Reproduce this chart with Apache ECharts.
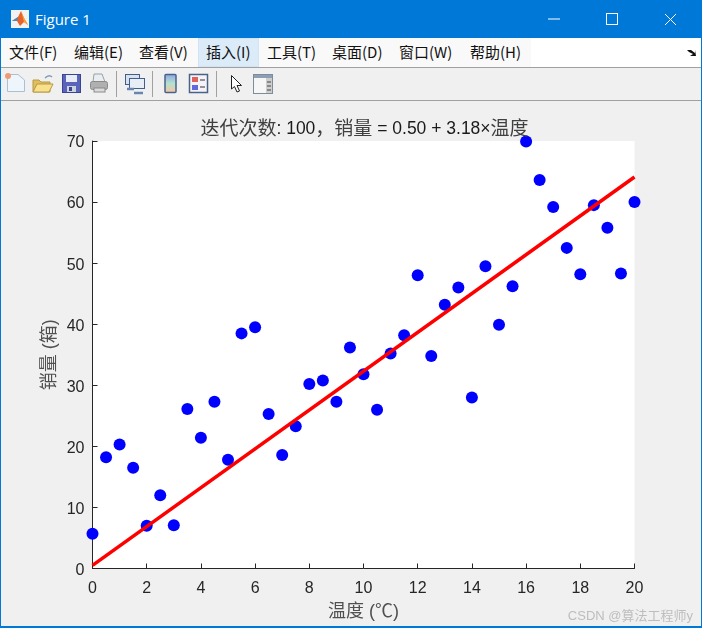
<!DOCTYPE html>
<html>
<head>
<meta charset="utf-8">
<title>Figure 1</title>
<script src="https://cdn.jsdelivr.net/npm/echarts@6/dist/echarts.min.js"></script>
<style>
html, body { margin: 0; padding: 0; width: 702px; height: 628px; overflow: hidden; background: #f0f0f0; }
#win { position: relative; width: 702px; height: 628px; font-family: "Noto Sans CJK SC", "Liberation Sans", sans-serif; }
#titlebar { position: absolute; left: 0; top: 0; width: 702px; height: 38px; background: #0078d7; color: #fff; }
#titlebar span { position: absolute; left: 35px; top: 9px; font: 15px "Open Sans", "Liberation Sans", sans-serif; }
#titlebar svg { position: absolute; left: 0; top: 0; }
#menubar { position: absolute; left: 0; top: 38px; width: 702px; height: 29px; background: #fff; border-bottom: 1px solid #a0a0a0; }
#menubg { position: absolute; left: 0; top: 0; width: 531px; height: 29px; background: #f9f9f9; }
#menubar i { position: absolute; top: 4px; font: normal 15px "Noto Sans CJK SC", sans-serif; color: #111; white-space: nowrap; line-height: 20px; }
#hl { position: absolute; left: 198px; top: 0; background: #dcebf8; border: 1px solid #d0e4f5; width: 59px; height: 27px; }
#toolbar { position: absolute; left: 0; top: 68px; width: 702px; height: 32px; background: #f0f0f0; border-bottom: 1px solid #a0a0a0; }
#chart { position: absolute; left: 0; top: 101px; width: 702px; height: 527px; }
#edge { position: absolute; left: 0; top: 0; width: 702px; height: 628px; box-sizing: border-box; border: 1px solid #0078d7; border-bottom-width: 2px; pointer-events: none; }
</style>
</head>
<body>
<div id="win">
  <div id="titlebar">
    <svg width="702" height="38">
      <rect x="11" y="10" width="18" height="18" fill="#f2f2f2"/>
      <path d="M12 21 L18 17 L21 11 L24 18 L28 25 L24 22 L20 26 L17 21 Z" fill="#e8622a"/>
      <path d="M12 21 L18 17 L17 21 Z" fill="#3f8fc4"/>
      <path d="M21 11 L24 18 L28 25 L24 22 Z" fill="#f4a636"/>
      <line x1="548" y1="19" x2="560" y2="19" stroke="#fff"/>
      <rect x="606.5" y="13.5" width="11" height="11" fill="none" stroke="#fff"/>
      <path d="M665 14 L676 25 M676 14 L665 25" stroke="#fff" fill="none"/>
    </svg>
    <span>Figure 1</span>
  </div>
  <div id="menubar">
    <div id="menubg"></div>
    <div id="hl"></div>
    <i style="left:9px">文件(F)</i>
    <i style="left:74px">编辑(E)</i>
    <i style="left:139px">查看(V)</i>
    <i style="left:206px">插入(I)</i>
    <i style="left:267px">工具(T)</i>
    <i style="left:332px">桌面(D)</i>
    <i style="left:399px">窗口(W)</i>
    <i style="left:470px">帮助(H)</i>
    <svg width="702" height="29" style="position:absolute;left:0;top:0"><path d="M687 12 L691 12 L695 15 L695 12 L696 18 L690 18 L693 16 L689 14 Z" fill="#111"/></svg>
  </div>
  <div id="toolbar">
    <svg width="290" height="32">
      <path d="M7.5 6.5 H18 L24.5 12 V23.5 H7.5 Z" fill="#eef5fb" stroke="#a9c0d6"/>
      <circle cx="8" cy="8" r="3" fill="#ee9a72"/>
      <path d="M33 12 H39 L41 14 H50 V24 H33 Z" fill="#e2bd5c" stroke="#b79a45"/>
      <path d="M33 24 L37 16 H53 L49 24 Z" fill="#f8e08c" stroke="#b79a45"/>
      <path d="M45 10 Q49 6 52 9" stroke="#7f9bb8" stroke-width="1.5" fill="none"/>
      <rect x="62.5" y="6.5" width="18" height="18" fill="#5a64bb" stroke="#3a4490"/>
      <rect x="66" y="7" width="11" height="7" fill="#e8ecf6"/>
      <rect x="67" y="18" width="9" height="6" fill="#cfd3e0"/>
      <rect x="69" y="19" width="3" height="4" fill="#3a4490"/>
      <path d="M94 6 H102 L105 14 H93 Z" fill="#e8eef2" stroke="#9aa0a4"/>
      <rect x="90.5" y="13.5" width="17" height="8" rx="2" fill="#b0b0b0" stroke="#8a8a8a"/>
      <rect x="94" y="20" width="11" height="4" fill="#dcdcdc" stroke="#8a8a8a"/>
      <line x1="116.5" y1="3" x2="116.5" y2="29" stroke="#a0a0a0"/>
      <rect x="125.5" y="6.5" width="14" height="10" fill="#d8e2ef" stroke="#3f5f8f"/>
      <rect x="129.5" y="10.5" width="15" height="10" fill="#e8eef6" stroke="#3f5f8f"/>
      <path d="M127 21 H134 M134 25 H143" stroke="#6a86ae" stroke-width="2.5"/>
      <line x1="152.5" y1="3" x2="152.5" y2="29" stroke="#a0a0a0"/>
      <defs><linearGradient id="cb" x1="0" y1="0" x2="0" y2="1"><stop offset="0" stop-color="#8fa8e8"/><stop offset="0.5" stop-color="#b5e2cc"/><stop offset="1" stop-color="#f6c4a6"/></linearGradient></defs>
      <rect x="165" y="6.5" width="11" height="18" rx="1" fill="url(#cb)" stroke="#4a6288" stroke-width="1.5"/>
      <rect x="189.5" y="6.5" width="18" height="18" fill="#f4f4f8" stroke="#4a6288" stroke-width="1.5"/>
      <rect x="192" y="9" width="6" height="5" fill="#e0605f"/>
      <rect x="192" y="17" width="6" height="5" fill="#6068e0"/>
      <path d="M200 12 H205 M200 19 H205" stroke="#333"/>
      <line x1="216.5" y1="3" x2="216.5" y2="29" stroke="#a0a0a0"/>
      <path d="M231.5 7.5 V21 L234.5 18.5 L237 24 L239.5 23 L237 17.5 H241.5 Z" fill="#fff" stroke="#222"/>
      <rect x="253.5" y="6.5" width="19" height="19" fill="#f6f6f6" stroke="#7d8c9a"/>
      <rect x="254" y="7" width="18" height="3" fill="#8ba0b4"/>
      <rect x="266" y="10" width="6" height="15" fill="#cdcdcd"/>
      <path d="M267 14 H271 M267 18 H271 M267 22 H271" stroke="#444"/>
    </svg>
  </div>
  <div id="chart"></div>
  <div id="edge"></div>
</div>
<script>
// 温度 / 销量 散点
let temperature = [0, 0.5, 1, 1.5, 2, 2.5, 3, 3.5, 4, 4.5, 5, 5.5, 6, 6.5, 7, 7.5, 8, 8.5, 9, 9.5,
  10, 10.5, 11, 11.5, 12, 12.5, 13, 13.5, 14, 14.5, 15, 15.5, 16, 16.5, 17, 17.5, 18, 18.5, 19, 19.5, 20];
let sales = [5.7, 18.2, 20.3, 16.5, 7.0, 12.0, 7.1, 26.1, 21.4, 27.3, 17.8, 38.5, 39.5, 25.3, 18.6, 23.3, 30.2, 30.8, 27.3, 36.2,
  31.8, 26.0, 35.2, 38.2, 48.0, 34.8, 43.2, 46.0, 28.0, 49.5, 39.9, 46.2, 69.9, 63.6, 59.2, 52.5, 48.2, 59.5, 55.8, 48.3, 60.0];
// 拟合直线的两个端点
let fitX = [0, 20];
let fitY = [0.5, 64.1];

let scatterData = temperature.map(function (t, i) { return [t, sales[i]]; });
let fitData = fitX.map(function (t, i) { return [t, fitY[i]]; });

let font = '"Liberation Sans", "Noto Sans CJK SC", sans-serif';
let myChart = echarts.init(document.getElementById('chart'), null, { renderer: 'canvas' });

let axisCommon = {
  nameLocation: 'middle',
  nameMoveOverlap: false,
  nameTextStyle: { color: '#505050', fontSize: 18, fontFamily: font },
  axisLine: { show: true, onZero: false, lineStyle: { color: '#262626', width: 1 } },
  axisTick: { show: true, inside: true, length: 5, lineStyle: { color: '#262626', width: 1 } },
  splitLine: { show: false }
};
let labelCommon = { color: '#262626', fontSize: 16, fontFamily: font, showMinLabel: true, showMaxLabel: true };

let option = {
  animation: false,
  backgroundColor: '#f0f0f0',
  title: {
    text: '{c|迭代次数}: 100{c|，销量} = 0.50 + 3.18×{c|温度}',
    left: 359.5, top: 14, textAlign: 'center',
    textStyle: {
      color: '#1a1a1a', fontSize: 17.5, fontWeight: 'normal', fontFamily: font,
      rich: { c: { color: '#404040', fontSize: 19, fontFamily: font } }
    }
  },
  grid: { left: 92.5, right: 67.5, top: 40, bottom: 59.5, show: true, backgroundColor: '#fff', borderWidth: 0 },
  xAxis: Object.assign({}, axisCommon, {
    type: 'value', min: 0, max: 20, interval: 2, name: '温度 (℃)', nameGap: 35,
    axisLabel: Object.assign({}, labelCommon, { margin: 12 })
  }),
  yAxis: Object.assign({}, axisCommon, {
    type: 'value', min: 0, max: 70, interval: 10, name: '销量 (箱)', nameGap: 33,
    axisLabel: Object.assign({}, labelCommon, { verticalAlign: 'top', lineHeight: 4 })
  }),
  graphic: [{
    type: 'text', right: 9, bottom: 5,
    style: { text: 'CSDN @算法工程师y', fill: '#bdbdbd', fontSize: 13, fontFamily: font }
  }],
  series: [
    {
      type: 'scatter', data: scatterData, symbolSize: 12, clip: false,
      itemStyle: { color: '#0000ff', opacity: 1 }
    },
    {
      type: 'line', data: fitData, showSymbol: false, symbol: 'none', clip: false, z: 3,
      lineStyle: { color: '#ff0000', width: 3.5 }
    }
  ]
};
myChart.setOption(option);
</script>
</body>
</html>
